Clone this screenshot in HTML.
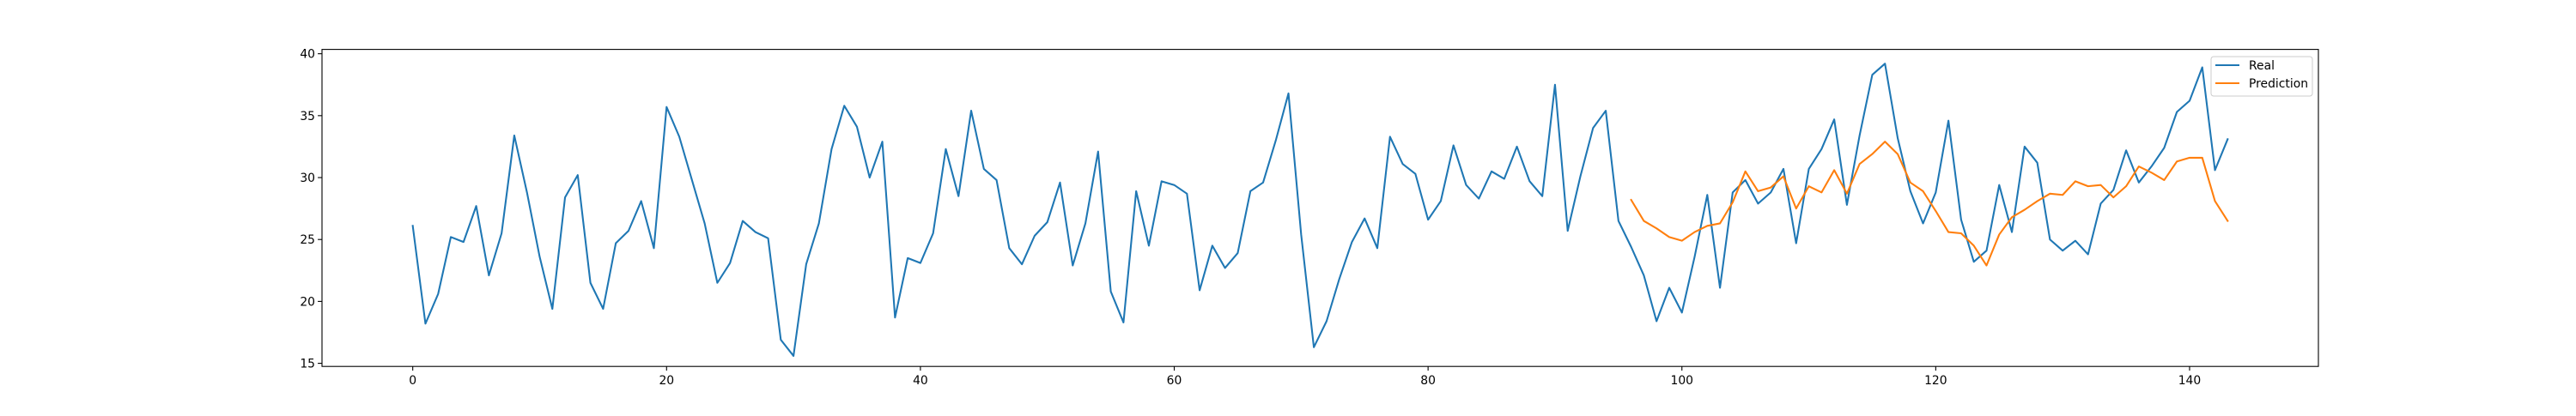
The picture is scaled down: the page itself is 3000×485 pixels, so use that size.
<!DOCTYPE html>
<html><head><meta charset="utf-8"><style>
html,body{margin:0;padding:0;background:#fff;}
svg text{font-family:"DejaVu Sans","Liberation Sans",sans-serif;font-size:13.9px;fill:#000;}
</style></head><body>
<svg id="chart" width="3000" height="480" xmlns="http://www.w3.org/2000/svg"></svg>
<script>
const realValues=[26.1,18.2,20.6,25.2,24.8,27.7,22.1,25.5,33.4,28.8,23.6,19.4,28.4,30.2,21.5,19.4,24.7,25.7,28.1,24.3,
35.7,33.3,29.8,26.3,21.5,23.1,26.5,25.6,25.1,16.9,15.6,23.0,26.3,32.3,35.8,34.1,30.0,32.9,18.7,23.5,
23.1,25.5,32.3,28.5,35.4,30.7,29.8,24.3,23.0,25.3,26.4,29.6,22.9,26.3,32.1,20.8,18.3,28.9,24.5,29.7,
29.4,28.7,20.9,24.5,22.7,23.9,28.9,29.6,33.0,36.8,25.4,16.3,18.4,21.8,24.8,26.7,24.3,33.3,31.1,30.3,
26.6,28.1,32.6,29.4,28.3,30.5,29.9,32.5,29.7,28.5,37.5,25.7,30.1,34.0,35.4,26.5,24.4,22.1,18.4,21.1,
19.1,23.6,28.6,21.1,28.8,29.8,27.9,28.8,30.7,24.7,30.7,32.3,34.7,27.8,33.4,38.3,39.2,33.2,28.9,26.3,
28.8,34.6,26.6,23.2,24.1,29.4,25.6,32.5,31.2,25.0,24.1,24.9,23.8,27.9,29.0,32.2,29.6,30.9,32.4,35.3,
36.2,38.9,30.6,33.1];
const predStart=96;
const predValues=[28.2,26.5,25.9,25.2,24.9,25.6,26.1,26.3,28.0,30.5,28.9,29.2,30.1,27.5,29.3,28.8,30.6,28.7,31.1,31.9,
32.9,31.9,29.6,28.9,27.3,25.6,25.5,24.5,22.9,25.4,26.8,27.4,28.1,28.7,28.6,29.7,29.3,29.4,28.4,29.3,
30.9,30.4,29.8,31.3,31.6,31.6,28.1,26.5];
const xTicks=[0,20,40,60,80,100,120,140];
const yTicks=[15,20,25,30,35,40];
const seriesNames=["Real","Prediction"];

const NS="http://www.w3.org/2000/svg";
const svg=document.getElementById('chart');
const L=375,R=2700,T=57.6,B=427.2;
const xMin=-7.15,xMax=150.15,yMin=14.75,yMax=40.35;
const sx=v=>L+(v-xMin)/(xMax-xMin)*(R-L);
const sy=v=>B-(v-yMin)/(yMax-yMin)*(B-T);
function mk(tag,attrs){const e=document.createElementNS(NS,tag);for(const k in attrs)e.setAttribute(k,attrs[k]);svg.appendChild(e);return e;}

function line(vals,offset,color,name){
  const pts=vals.map((v,i)=>sx(i+offset).toFixed(2)+','+sy(v).toFixed(2)).join(' ');
  const p=mk('polyline',{points:pts,fill:'none',stroke:color,'stroke-width':2.08,'stroke-linejoin':'round','stroke-linecap':'square'});
  
  
}
line(realValues,0,'#1f77b4','real-line');
line(predValues,predStart,'#ff7f0e','prediction-line');

const frame=mk('rect',{x:L,y:T,width:R-L,height:B-T,fill:'none',stroke:'#000','stroke-width':1.1});



xTicks.forEach(t=>{
  const x=sx(t);
  const tk=mk('line',{x1:x,x2:x,y1:B,y2:B+4.9,stroke:'#000','stroke-width':1.1});
  
  
  const tx=mk('text',{x:x,y:B+21,'text-anchor':'middle'});
  tx.textContent=t;
  
  
});
yTicks.forEach(t=>{
  const y=sy(t);
  const tk=mk('line',{x1:L-4.9,x2:L,y1:y,y2:y,stroke:'#000','stroke-width':1.1});
  
  
  const tx=mk('text',{x:L-8,y:y+5,'text-anchor':'end'});
  tx.textContent=t;
  
  
});

const lg=mk('rect',{x:2575,y:66,width:118,height:46,rx:3,fill:'#fff','fill-opacity':0.8,stroke:'#ccc','stroke-width':1});


const colors=['#1f77b4','#ff7f0e'];
seriesNames.forEach((n,i)=>{
  const y=76+i*21;
  const ll=mk('line',{x1:2580,x2:2608,y1:y,y2:y,stroke:colors[i],'stroke-width':2.08});
  
  
  const lt=mk('text',{x:2619,y:y+5});
  lt.textContent=n;
  
  
});
</script>
</body></html>
